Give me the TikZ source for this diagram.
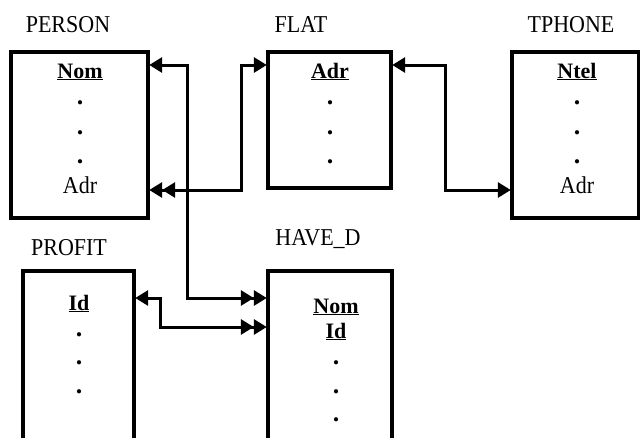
\documentclass[tikz,border=0pt]{standalone}
\usepackage{fontspec}
\setmainfont{Liberation Serif}
\usepackage{tikz}
\usetikzlibrary{arrows.meta}
\tikzstyle{table} = [draw, line width=3.2pt, anchor=north west, outer sep=0pt, inner sep=0pt]
\tikzstyle{title} = [anchor=base, font=\fontsize{22}{24}\selectfont]
\tikzstyle{attr} = [anchor=base, font=\fontsize{22}{24}\selectfont]
\tikzstyle{dot} = [inner sep=0pt, font=\fontsize{26}{26}\selectfont\bfseries]
\tikzstyle{link} = [line width=3pt, >={Triangle[length=13pt,width=15pt]}, shorten <=1.2pt, shorten >=1.2pt]
\newcommand{\key}[1]{\underline{\textbf{#1}}}

\begin{document}
\begin{tikzpicture}[x=1pt, y=-1pt]
    \useasboundingbox (0,0) rectangle (640,437);
    \clip (0,0) rectangle (640,437);
    				\node[table, minimum width=137pt, minimum height=166pt] (person) at (11,52) {};
    				\node[table, minimum width=123pt, minimum height=136pt] (flat) at (268,52) {};
    				\node[table, minimum width=127pt, minimum height=166pt] (tphone) at (512,52) {};
    				\node[table, minimum width=111pt, minimum height=200pt] (profit) at (23,271) {};
    				\node[table, minimum width=124pt, minimum height=200pt] (haved) at (268,271) {};
    				\node[title] (tperson) at (68,32) {\scalebox{1}[1.1]{PERSON}};
    				\node[title] (tflat) at (301,32) {\scalebox{1}[1.1]{FLAT}};
    				\node[title] (ttphone) at (571,32) {\scalebox{1}[1.1]{TPHONE}};
    				\node[title] (tprofit) at (69,255) {\scalebox{1}[1.1]{PROFIT}};
    				\node[title] (thaved) at (318,245) {\scalebox{1}[1.1]{HAVE\_D}};
    				\node[attr] (pnom) at (80,78) {\key{Nom}};
    				\node[attr] (padr) at (80,193) {\scalebox{1}[1.1]{Adr}};
    				\node[attr] (fadr) at (330,78) {\key{Adr}};
    				\node[attr] (tntel) at (577,78) {\key{Ntel}};
    				\node[attr] (tadr) at (577,193) {\scalebox{1}[1.1]{Adr}};
    				\node[attr] (prid) at (79,310) {\key{Id}};
    				\node[attr] (hnom) at (336,313) {\key{Nom}};
    				\node[attr] (hid) at (336,338) {\key{Id}};
    				\foreach \y [count=\i] in {103,133,162} {
    					\node[dot] (pd\i) at (80,\y) {.};
    					\node[dot] (fd\i) at (330,\y) {.};
    					\node[dot] (td\i) at (577,\y) {.};
    				}
    				\foreach \y [count=\i] in {335,363,392} {
    					\node[dot] (prd\i) at (79,\y) {.};
    				}
    				\foreach \y [count=\i] in {363,392,420} {
    					\node[dot] (hd\i) at (336,\y) {.};
    				}
    				\draw[link, <->>] ([yshift=-13pt]person.north east) -- ++(39,0) |- ([yshift=-27pt]haved.north west);
    				\draw[link, <<->] ([yshift=-138pt]person.north east) -- ++(93,0) |- ([yshift=-13pt]flat.north west);
    				\draw[link, <->] ([yshift=-13pt]flat.north east) -- ++(54,0) |- ([yshift=-138pt]tphone.north west);
    				\draw[link, <->>] ([yshift=-27pt]profit.north east) -- ++(26,0) |- ([yshift=-56pt]haved.north west);
    		\end{tikzpicture}
\end{document}
